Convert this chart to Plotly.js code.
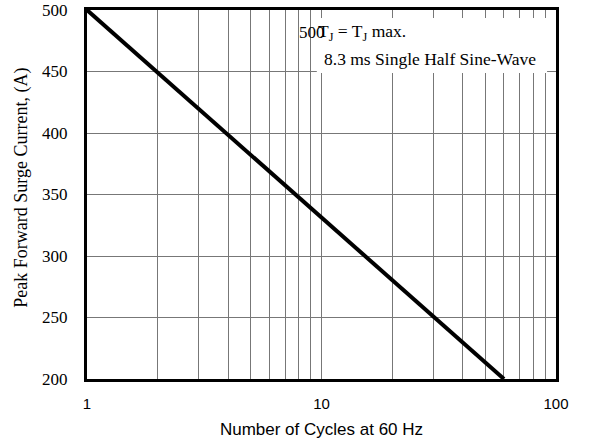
<!DOCTYPE html>
<html>
<head>
<meta charset="utf-8">
<script src="https://cdn.plot.ly/plotly-3.0.1.min.js"></script>
<style>html,body{margin:0;padding:0;background:#fff;}#chart{width:599px;height:446px;}</style>
</head>
<body>
<div id="chart"></div>
<script>
// Data
const cycles = [1, 60];
const surgeCurrent = [500, 200];
const xTickVals = [1, 10, 100];
const xTickText = ['1', '10', '100'];
const yTickVals = [200, 250, 300, 350, 400, 450, 500];

const serif = 'Liberation Serif, Times New Roman, serif';
const sans = 'Liberation Sans, Arial, sans-serif';

const trace = {
  x: cycles,
  y: surgeCurrent,
  type: 'scatter',
  mode: 'lines',
  line: {color: '#000', width: 4},
  showlegend: false,
  hoverinfo: 'skip'
};

const layout = {
  width: 599,
  height: 446,
  margin: {l: 87, r: 43, t: 10, b: 67},
  paper_bgcolor: '#fff',
  plot_bgcolor: '#fff',
  xaxis: {
    type: 'log',
    range: [0, 2],
    tickvals: xTickVals,
    ticktext: xTickText,
    ticks: '',
    ticklabelstandoff: 9,
    showgrid: true,
    gridcolor: '#777',
    gridwidth: 1,
    minor: {dtick: 'D1', showgrid: true, gridcolor: '#777', gridwidth: 1, ticks: ''},
    showline: true, mirror: true, linecolor: '#000', linewidth: 3,
    zeroline: false,
    tickfont: {family: sans, size: 15, color: '#000'},
    title: {text: 'Number of Cycles at 60 Hz', standoff: 13,
            font: {family: sans, size: 17, color: '#000'}}
  },
  yaxis: {
    range: [200, 500],
    tickvals: yTickVals,
    ticks: '',
    ticklabelstandoff: 13,
    showgrid: true,
    gridcolor: '#777',
    gridwidth: 1,
    showline: true, mirror: true, linecolor: '#000', linewidth: 3,
    zeroline: false,
    tickfont: {family: serif, size: 17, color: '#000'}
  },
  shapes: [{
    type: 'rect', xref: 'paper', yref: 'paper',
    x0: 0.49, x1: 0.981, y0: 0.829, y1: 0.978,
    fillcolor: '#fff', line: {width: 0}, layer: 'above'
  }],
  annotations: [
    {xref: 'paper', yref: 'paper', x: -0.139, y: 0.518, xanchor: 'center', yanchor: 'middle',
     textangle: -90, text: 'Peak Forward Surge Current, (A)', showarrow: false,
     font: {family: serif, size: 18, color: '#000'}},
    {xref: 'paper', yref: 'paper', x: 0.447, y: 0.938, xanchor: 'left', yanchor: 'middle',
     text: '500', showarrow: false,
     font: {family: serif, size: 17, color: '#000'}},
    {xref: 'paper', yref: 'paper', x: 0.4875, y: 0.938, xanchor: 'left', yanchor: 'middle',
     text: 'T<sub>J</sub> = T<sub>J</sub> max.', showarrow: false,
     font: {family: serif, size: 17.5, color: '#000'}},
    {xref: 'paper', yref: 'paper', x: 0.5, y: 0.868, xanchor: 'left', yanchor: 'middle',
     text: '8.3 ms Single Half Sine-Wave', showarrow: false,
     font: {family: serif, size: 17.5, color: '#000'}}
  ]
};

Plotly.newPlot('chart', [trace], layout, {displayModeBar: false, staticPlot: true});
</script>
</body>
</html>
